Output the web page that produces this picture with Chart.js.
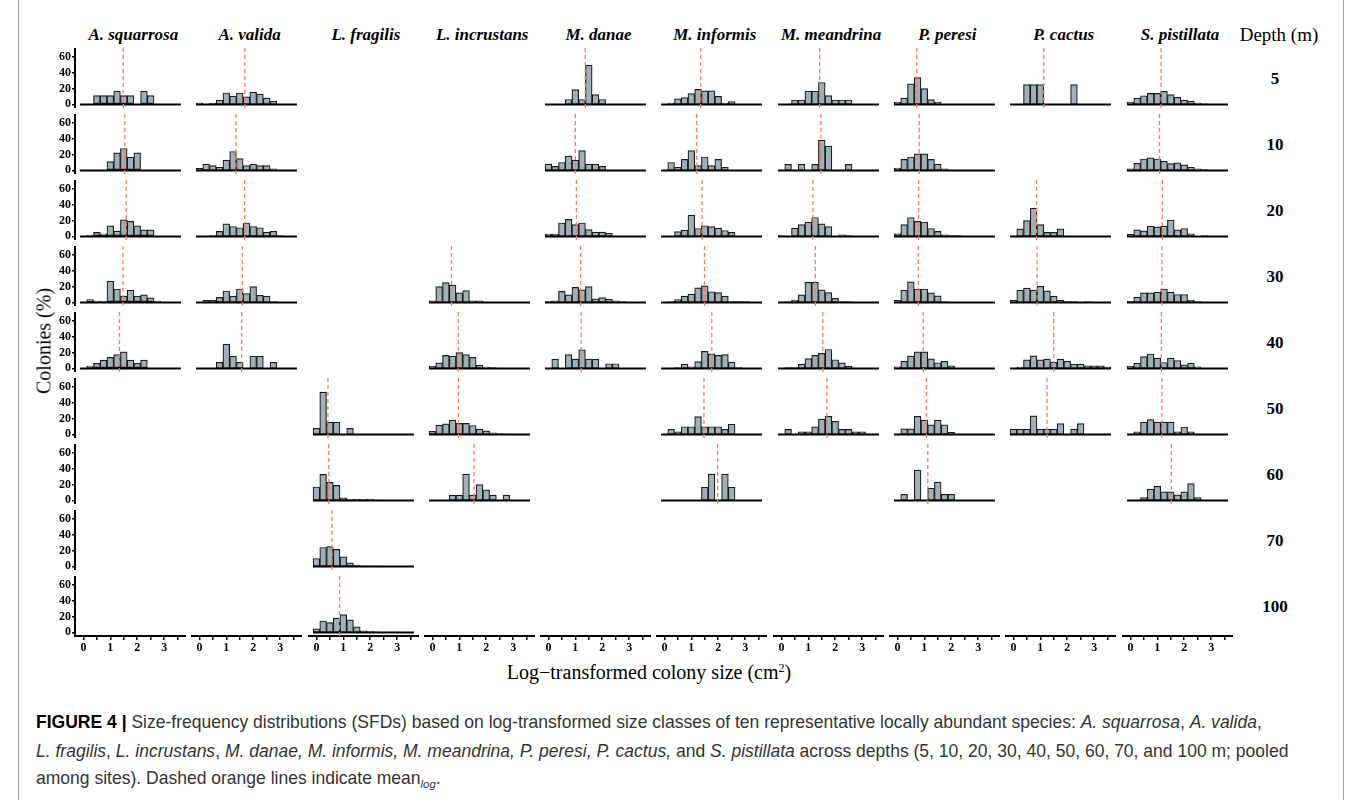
<!DOCTYPE html>
<html>
<head>
<meta charset="utf-8">
<script src="https://cdn.jsdelivr.net/npm/chart.js@4.4.1/dist/chart.umd.min.js"></script>
<style>
  html, body { margin: 0; padding: 0; background: #fff; }
  #fig { position: relative; width: 1359px; height: 800px; overflow: hidden; background: #fff; }
  #fig canvas { position: absolute; }
  .frame { position: absolute; top: 0; bottom: 0; width: 1px; background: #a0a0a0; }
  .lbl { position: absolute; white-space: nowrap; color: #000; }
  .colhead { font: italic bold 17px 'Liberation Serif', serif; transform: translate(-50%, -50%); }
  .depth { font: bold 17px 'Liberation Serif', serif; transform: translate(-50%, -50%); }
  .depthhead { font: 19px 'Liberation Serif', serif; transform: translate(-50%, -50%); }
  .axtitle { font: 20px 'Liberation Serif', serif; }
  .cap { position: absolute; left: 36px; white-space: nowrap; font-family: 'Liberation Sans', sans-serif; font-size: 15px; color: #333; transform: translateY(-50%); }
  .cap sub { font-size: 0.65em; }
</style>
</head>
<body>
<div id="fig">
  <div class="frame" style="left:18px"></div>
  <div class="frame" style="left:1343px"></div>
</div>
<script>
// Size-frequency distributions: % of colonies per log10 size class (cm^2),
// one entry per depth (5 ... 100 m); null where a species was not recorded.
const SPECIES = ['A. squarrosa', 'A. valida', 'L. fragilis', 'L. incrustans', 'M. danae',
                 'M. informis', 'M. meandrina', 'P. peresi', 'P. cactus', 'S. pistillata'];
const DEPTHS = ['5', '10', '20', '30', '40', '50', '60', '70', '100'];
const SIZE_BINS = [0, 0.25, 0.5, 0.75, 1, 1.25, 1.5, 1.75, 2, 2.25, 2.5, 2.75, 3, 3.25, 3.5];
const X_TICKS = [0, 0.5, 1, 1.5, 2, 2.5, 3, 3.5];
const X_TICK_LABELS = ['0', '', '1', '', '2', '', '3', ''];
const Y_TICKS = [0, 20, 40, 60];
const Y_TICK_LABELS = ['0', '20', '40', '60'];

const A_SQUARROSA = [
  [0, 0, 11.1, 11.1, 11.1, 16.7, 11.1, 11.1, 0, 16.7, 11.1, 0, 0, 0, 0],
  [0, 0, 0, 0, 11.1, 22.2, 27.8, 16.7, 22.2, 0, 0, 0, 0, 0, 0],
  [0, 1.7, 5, 3.3, 13.3, 6.7, 21, 19, 13.3, 8.3, 8.3, 0, 0, 0, 0],
  [0, 3.7, 1.7, 1.7, 27, 17, 8, 15.4, 8, 9.6, 5.8, 1.7, 0, 0, 0],
  [0, 3, 6.5, 10.5, 14, 17.5, 21, 10.5, 6.5, 10.5, 0, 0, 0, 0, 0],
  null, null, null, null
];
const A_SQUARROSA_MEAN = [1.48, 1.54, 1.59, 1.47, 1.34, null, null, null, null];

const A_VALIDA = [
  [1.5, 0, 1.5, 5.5, 14.5, 10.5, 14.5, 9.5, 15.5, 13, 8, 4, 0, 0, 0],
  [2.5, 8, 6, 4, 13, 24, 15, 6, 8, 6, 6, 2, 0, 0, 0],
  [0, 0, 1, 6.3, 15.8, 12.6, 11, 17, 12.6, 11, 5.3, 6.5, 1, 0, 0],
  [0, 2.5, 2.5, 6.3, 14.5, 8, 17, 11.3, 20, 9, 8, 1, 0, 0, 0],
  [0, 0, 0, 7.7, 30.8, 15.4, 7.7, 0, 15.4, 15.4, 0, 7.7, 0, 0, 0],
  null, null, null, null
];
const A_VALIDA_MEAN = [1.69, 1.36, 1.68, 1.6, 1.57, null, null, null, null];

const L_FRAGILIS = [
  null, null, null, null, null,
  [7.7, 53.8, 15.4, 15.4, 0, 7.7, 0, 0, 0, 0, 0, 0, 0, 0, 0],
  [17, 33, 23, 19, 3.3, 1, 1.7, 1, 1.7, 0.5, 0, 0, 0, 0, 0],
  [10, 24, 25, 21.5, 12, 4.5, 1.5, 0.7, 0.3, 0.3, 0.2, 0.2, 0, 0, 0],
  [4.5, 14.5, 12.5, 18, 22.5, 16, 7, 2, 1, 0.7, 0.5, 0.5, 0.3, 0, 0]
];
const L_FRAGILIS_MEAN = [null, null, null, null, null, 0.43, 0.46, 0.58, 0.86];

const L_INCRUSTANS = [
  null, null, null,
  [2, 20, 25, 22, 12, 15, 2, 2, 0, 0, 0, 0, 0, 0, 0],
  [3, 7, 16.5, 15.5, 20, 17.5, 14, 4, 1.8, 1, 0, 0, 0, 0, 0],
  [3.8, 11.7, 13.3, 18, 14, 14, 11.3, 6.7, 4.6, 2, 1, 0.5, 0, 0, 0],
  [0, 0, 0, 6.7, 6.7, 33.3, 6.7, 20, 13.3, 6.7, 0, 6.7, 0, 0, 0],
  null, null
];
const L_INCRUSTANS_MEAN = [null, null, null, 0.71, 0.96, 0.97, 1.55, null, null];

const M_DANAE = [
  [0, 0, 0, 6.25, 18.75, 6.25, 50, 12.5, 6.25, 0, 0, 0, 0, 0, 0],
  [8, 5, 10, 18, 13, 25, 8, 8, 5, 0, 0, 0, 0, 0, 0],
  [3, 3, 17, 21.5, 15, 17, 8.5, 5.5, 5.5, 4, 0, 0, 0, 0, 0],
  [1, 2, 14, 9.5, 19, 16, 20, 4.5, 6, 4, 2, 1, 0, 0, 0],
  [0, 11.8, 0, 17.6, 11.8, 23.5, 11.8, 11.8, 0, 5.9, 5.9, 0, 0, 0, 0],
  null, null, null, null
];
const M_DANAE_MEAN = [1.37, 1.0, 1.04, 1.2, 1.22, null, null, null, null];

const M_INFORMIS = [
  [0, 1.7, 6.9, 8.6, 13.8, 19, 17.2, 17.2, 10.3, 1.7, 3.4, 0, 0, 0, 0],
  [0, 10, 4, 14, 25, 6, 17, 6, 14, 4, 0, 0, 0, 0, 0],
  [0, 0, 6, 8, 27, 10, 13.5, 12.5, 10.5, 7.5, 5, 0, 0, 0, 0],
  [0, 1, 3.5, 8, 10.5, 18.5, 21, 13.5, 12.5, 8, 1, 1, 1, 0, 0],
  [0, 0, 1, 5.5, 2, 8.5, 21.5, 18.5, 16.5, 17.5, 8, 1, 0, 0, 0],
  [0, 6.45, 3.2, 9.7, 9.7, 22.6, 9.7, 9.7, 9.7, 6.45, 12.9, 0, 0, 0, 0],
  [0, 0, 0, 0, 0, 0, 16.7, 33.3, 0, 33.3, 16.7, 0, 0, 0, 0],
  null, null
];
const M_INFORMIS_MEAN = [1.35, 1.2, 1.4, 1.49, 1.76, 1.47, 1.98, null, null];

const M_MEANDRINA = [
  [0, 0, 5.6, 5.6, 16.7, 16.7, 27.8, 11.1, 5.6, 5.6, 5.6, 0, 0, 0, 0],
  [0, 7.7, 0, 7.7, 0, 7.7, 38.5, 30.8, 0, 0, 7.7, 0, 0, 0, 0],
  [1, 0, 10.5, 15, 18, 24, 16, 12.5, 0, 2, 1, 0, 0, 0, 0],
  [0, 1, 3, 9.5, 25.5, 25.5, 16, 12.5, 5, 1, 1, 0, 0, 0, 0],
  [0, 1, 1, 5.5, 12.5, 16.5, 19, 24, 11, 7, 2.5, 0, 0, 0, 0],
  [0, 6.3, 0, 3.2, 3.2, 9.5, 19.5, 23, 16.5, 6.3, 6.3, 3.2, 3.2, 0, 0],
  null, null, null
];
const M_MEANDRINA_MEAN = [1.42, 1.47, 1.17, 1.26, 1.54, 1.69, null, null, null];

const P_PERESI = [
  [3, 8, 26, 34, 20, 6, 3, 0, 0, 0, 0, 0, 0, 0, 0],
  [3, 14, 17, 21, 21, 14, 8, 2, 0, 0, 0, 0, 0, 0, 0],
  [3.3, 15, 24, 19, 18.3, 10, 6.3, 2, 1, 1, 0, 0, 0, 0, 0],
  [2.5, 15.4, 26, 17, 17, 12, 8.3, 1, 0.5, 0, 0, 0, 0, 0, 0],
  [2, 9, 15.5, 21, 21, 12, 7.2, 9, 3.3, 0, 0, 0, 0, 0, 0],
  [0, 7, 7, 23, 18, 12, 18, 12, 2.5, 0, 0, 0, 0, 0, 0],
  [0, 7.7, 0, 38.5, 0, 15.4, 23.1, 7.7, 7.7, 0, 0, 0, 0, 0, 0],
  null, null
];
const P_PERESI_MEAN = [0.72, 0.81, 0.79, 0.78, 0.96, 1.08, 1.13, null, null];

const P_CACTUS = [
  [0, 0, 25, 25, 25, 0, 0, 0, 0, 25, 0, 0, 0, 0, 0],
  null,
  [0, 9.5, 20, 36, 15, 5, 5, 9.5, 0, 0, 0, 0, 0, 0, 0],
  [2.5, 15.4, 18, 15.4, 20.4, 14.6, 8, 2.5, 1, 1, 0, 1, 0, 0, 0],
  [0, 1.7, 10.8, 15.8, 10.8, 11.7, 8, 11.7, 9.2, 5.4, 5.4, 3.3, 3.3, 3.3, 1.7],
  [6.6, 6.6, 6.6, 23.5, 6.6, 6.6, 6.6, 13.8, 0, 6.6, 13.8, 0, 0, 0, 0],
  null, null, null
];
const P_CACTUS_MEAN = [1.13, null, 0.86, 0.88, 1.5, 1.25, null, null, null];

const S_PISTILLATA = [
  [3, 8, 11, 14, 14, 16.5, 12.5, 9, 5.5, 4, 1.8, 0.7, 0, 0, 0],
  [2, 9, 14.5, 16, 14.5, 11.5, 8.5, 9.5, 7, 4, 2, 1, 0, 0, 0],
  [2.5, 8.3, 7, 13, 12, 13, 20.8, 8.3, 10, 3.3, 0, 1, 0, 0, 0],
  [1.3, 6.7, 12, 12, 13, 17, 13, 10, 10, 3, 1, 0, 0, 0, 0],
  [3, 6.7, 15, 18.3, 13, 7.5, 13, 10, 4.6, 6.7, 2, 0, 0, 0, 0],
  [0, 3.1, 15.6, 18.75, 15.6, 15.6, 15.6, 3.1, 9.4, 3.1, 0, 0, 0, 0, 0],
  [0, 0, 3.6, 14.3, 17.9, 10.7, 10.7, 7.1, 10.7, 21.4, 3.6, 0, 0, 0, 0],
  null, null
];
const S_PISTILLATA_MEAN = [1.14, 1.08, 1.19, 1.17, 1.15, 1.17, 1.52, null, null];

const FREQ = [A_SQUARROSA, A_VALIDA, L_FRAGILIS, L_INCRUSTANS, M_DANAE,
              M_INFORMIS, M_MEANDRINA, P_PERESI, P_CACTUS, S_PISTILLATA];
const MEANS = [A_SQUARROSA_MEAN, A_VALIDA_MEAN, L_FRAGILIS_MEAN, L_INCRUSTANS_MEAN, M_DANAE_MEAN,
               M_INFORMIS_MEAN, M_MEANDRINA_MEAN, P_PERESI_MEAN, P_CACTUS_MEAN, S_PISTILLATA_MEAN];

// ---- layout of the facet grid (pixels) ----
const BIN_WIDTH = 0.25;
const X_MIN = -0.3125, X_MAX = 3.8125;      // log size range of every panel
const Y_MIN = -4.6, Y_MAX = 71.6;           // % range of every panel
const COL_ZERO = 83.3, COL_STEP = 116.3, PX_PER_LOG = 26.85;
const ROW_ZERO = 104.3, ROW_STEP = 66, PX_PER_PCT = 0.79;
const YAXIS_W = 34, XAXIS_H = 22;

const fig = document.getElementById('fig');

function panelBox(c, r) {
  const x = COL_ZERO + c * COL_STEP + X_MIN * PX_PER_LOG;
  const y = ROW_ZERO + r * ROW_STEP - Y_MAX * PX_PER_PCT;
  return {
    x: Math.round(x), y: Math.round(y),
    w: Math.round((X_MAX - X_MIN) * PX_PER_LOG),
    h: Math.round((Y_MAX - Y_MIN) * PX_PER_PCT)
  };
}

const tickFont = { family: 'Liberation Serif', weight: 'bold', size: 12 };

function makePanel(c, r) {
  const vals = FREQ[c][r];
  const mean = MEANS[c][r];
  const showY = c === 0;
  const showX = r === DEPTHS.length - 1;
  if (!vals && !showY && !showX) return;

  const box = panelBox(c, r);
  const extraL = showY ? YAXIS_W : 0;
  const extraB = showX ? XAXIS_H : 0;
  const canvas = document.createElement('canvas');
  canvas.width = box.w + extraL;
  canvas.height = box.h + extraB;
  canvas.style.left = (box.x - extraL) + 'px';
  canvas.style.top = box.y + 'px';
  fig.appendChild(canvas);

  const datasets = [];
  if (vals) {
    datasets.push({
      type: 'bar',
      data: SIZE_BINS.map((b, i) => ({ x: b, y: vals[i] })),
      backgroundColor: '#a0b0b5',
      borderColor: '#1c1c1c',
      borderWidth: 1.2,
      borderSkipped: false,
      barPercentage: 1,
      categoryPercentage: 1,
      order: 3
    });
    datasets.push({
      type: 'line',
      data: [{ x: SIZE_BINS[0] - BIN_WIDTH / 2, y: 0 },
             { x: SIZE_BINS[SIZE_BINS.length - 1] + BIN_WIDTH / 2, y: 0 }],
      borderColor: '#000',
      borderWidth: 2,
      pointRadius: 0,
      fill: false,
      order: 2
    });
    if (mean !== null) {
      datasets.push({
        type: 'line',
        data: [{ x: mean, y: Y_MIN }, { x: mean, y: Y_MAX }],
        borderColor: '#f27a63',
        borderWidth: 1.3,
        borderDash: [4, 3],
        pointRadius: 0,
        fill: false,
        order: 1
      });
    }
  }

  new Chart(canvas, {
    type: 'bar',
    data: { datasets },
    options: {
      responsive: false,
      animation: false,
      devicePixelRatio: 1,
      events: [],
      layout: { padding: 0, autoPadding: false },
      plugins: { legend: { display: false }, tooltip: { enabled: false } },
      scales: {
        x: {
          type: 'linear', min: X_MIN, max: X_MAX, offset: false, display: showX,
          afterBuildTicks: s => { s.ticks = X_TICKS.map(v => ({ value: v })); },
          afterFit: s => {
            if (showX) s.height = XAXIS_H;
            s.paddingLeft = 0; s.paddingRight = 0;
          },
          grid: { offset: false, drawOnChartArea: false, drawTicks: true, tickLength: 4, color: '#000', lineWidth: 1.5 },
          border: { display: true, color: '#000', width: 2 },
          ticks: { autoSkip: false, maxRotation: 0, padding: 1, color: '#000', font: tickFont,
                   callback: (v, i) => X_TICK_LABELS[i] }
        },
        y: {
          type: 'linear', min: Y_MIN, max: Y_MAX, display: showY,
          afterBuildTicks: s => { s.ticks = Y_TICKS.map(v => ({ value: v })); },
          afterFit: s => {
            if (showY) s.width = YAXIS_W;
            s.paddingTop = 0; s.paddingBottom = 0;
          },
          grid: { drawOnChartArea: false, drawTicks: true, tickLength: 3, color: '#000', lineWidth: 1.5 },
          border: { display: true, color: '#000', width: 2 },
          ticks: { autoSkip: false, padding: 1, color: '#000', font: tickFont,
                   callback: (v, i) => Y_TICK_LABELS[i] }
        }
      }
    }
  });
}

for (let r = 0; r < DEPTHS.length; r++) {
  for (let c = 0; c < SPECIES.length; c++) makePanel(c, r);
}

// ---- text: facet strips, axis titles, caption ----
function addLabel(cls, text, x, y, extraStyle) {
  const d = document.createElement('div');
  d.className = 'lbl ' + cls;
  d.textContent = text;
  d.style.left = x + 'px';
  d.style.top = y + 'px';
  if (extraStyle) d.style.cssText += extraStyle;
  fig.appendChild(d);
  return d;
}

SPECIES.forEach((s, c) => {
  const cx = COL_ZERO + c * COL_STEP + (X_MIN + X_MAX) / 2 * PX_PER_LOG + 3;
  addLabel('colhead', s, cx, 35);
});
addLabel('depthhead', 'Depth (m)', 1279, 35);
DEPTHS.forEach((d, r) => {
  const cy = ROW_ZERO + r * ROW_STEP - (Y_MAX + Y_MIN) / 2 * PX_PER_PCT + 1.5;
  addLabel('depth', d, 1275, cy);
});

addLabel('axtitle', 'Colonies (%)', 44, 341,
  'transform:translate(-50%,-50%) rotate(-90deg);');
const xt = addLabel('axtitle', '', 649, 672, 'transform:translate(-50%,-50%);');
xt.innerHTML = 'Log\u2212transformed colony size (cm<sup style="font-size:12px;vertical-align:7px">2</sup>)';

const capLines = [
  '<b style="color:#000">FIGURE 4 |</b> Size-frequency distributions (SFDs) based on log-transformed size classes of ten representative locally abundant species: <i>A. squarrosa</i>, <i>A. valida</i>,',
  '<i>L. fragilis</i>, <i>L. incrustans</i>, <i>M. danae, M. informis, M. meandrina, P. peresi, P. cactus,</i> and <i>S. pistillata</i> across depths (5, 10, 20, 30, 40, 50, 60, 70, and 100 m; pooled',
  'among sites). Dashed orange lines indicate mean<sub><i>log</i></sub>.'
];
const capDivs = [722, 751, 779].map((y, i) => {
  const d = document.createElement('div');
  d.className = 'cap';
  d.style.top = y + 'px';
  d.innerHTML = capLines[i];
  fig.appendChild(d);
  return d;
});
// size the caption so its first line runs to the right edge of the text block
const CAP_LINE1_WIDTH = 1227;
const capScale = CAP_LINE1_WIDTH / capDivs[0].getBoundingClientRect().width;
capDivs.forEach(d => { d.style.fontSize = (15 * capScale).toFixed(2) + 'px'; });
</script>
</body>
</html>
